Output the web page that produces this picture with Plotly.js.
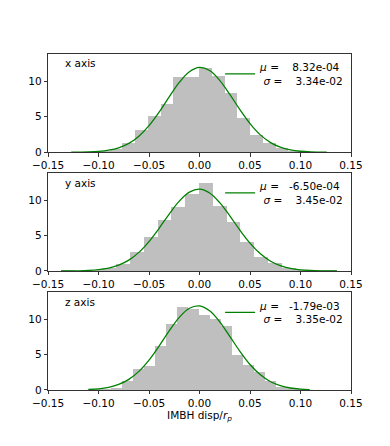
<!DOCTYPE html>
<html>
<head>
<meta charset="utf-8">
<script src="https://cdn.plot.ly/plotly-3.0.1.min.js"></script>
<style>
  html, body { margin: 0; padding: 0; background: #fff; }
  #chart { width: 390px; height: 446px; }
</style>
</head>
<body>
<div id="chart"></div>
<script>
// Panel names
const panelNames = ['x axis', 'y axis', 'z axis'];

// Histogram: 20 bins spanning the data range of each panel (density)
const binCount = 20;
const binRanges = [[-0.127, 0.126], [-0.137, 0.136], [-0.110, 0.109]];
const xDensity = [0.08, 0, 0.16, 0.4, 1.26, 3.1, 5.07, 6.85, 10.6, 10.6,
                  11.9, 10.75, 8.4, 4.85, 2.45, 1.36, 0.55, 0.24, 0.08, 0.08];
const yDensity = [0.07, 0, 0.07, 0.4, 1.05, 2.7, 4.76, 7.2, 9.1, 10.9,
                  12.4, 9.2, 6.9, 4.15, 2.03, 1.2, 0.45, 0.15, 0.07, 0.07];
const zDensity = [0.09, 0.09, 0.28, 1.3, 2.95, 3.4, 6.15, 9.35, 11.8, 11.4,
                  10.6, 10.05, 9.1, 5.0, 3.57, 2.5, 1.22, 0.42, 0.28, 0.1];

// Gaussian fit curves
const xFitX = [-0.127, -0.11, -0.10, -0.09, -0.08, -0.07, -0.06, -0.05, -0.04, -0.03, -0.02, -0.01, 0,
               0.01, 0.02, 0.03, 0.04, 0.05, 0.06, 0.07, 0.08, 0.09, 0.10, 0.11, 0.126];
const xFitY = [0.008, 0.049, 0.125, 0.296, 0.639, 1.26, 2.274, 3.752, 5.658, 7.801, 9.834, 11.333, 11.94,
               11.502, 10.131, 8.158, 6.005, 4.042, 2.487, 1.40, 0.72, 0.338, 0.146, 0.057, 0.011];
const yFitX = [-0.137, -0.12, -0.11, -0.10, -0.09, -0.08, -0.07, -0.06, -0.05, -0.04, -0.03, -0.02, -0.01, 0,
               0.01, 0.02, 0.03, 0.04, 0.05, 0.06, 0.07, 0.08, 0.09, 0.10, 0.11, 0.12, 0.136];
const yFitY = [0.005, 0.029, 0.076, 0.183, 0.404, 0.821, 1.533, 2.633, 4.157, 6.034, 8.053, 9.882, 11.146, 11.562,
               11.026, 9.667, 7.794, 5.776, 3.936, 2.465, 1.421, 0.752, 0.366, 0.164, 0.068, 0.026, 0.005];
const zFitX = [-0.110, -0.10, -0.09, -0.08, -0.07, -0.06, -0.05, -0.04, -0.03, -0.02, -0.01, 0,
               0.01, 0.02, 0.03, 0.04, 0.05, 0.06, 0.07, 0.08, 0.09, 0.10, 0.109];
const zFitY = [0.065, 0.162, 0.372, 0.781, 1.498, 2.632, 4.228, 6.214, 8.354, 10.274, 11.557, 11.892,
               11.194, 9.639, 7.591, 5.47, 3.605, 2.173, 1.199, 0.605, 0.279, 0.118, 0.05];

// Legend texts
const muText = ['8.32e-04', '-6.50e-04', '-1.79e-03'];
const sigmaText = ['3.34e-02', '3.45e-02', '3.35e-02'];

const densities = [xDensity, yDensity, zDensity];
const fitX = [xFitX, yFitX, zFitX];
const fitY = [xFitY, yFitY, zFitY];

const fontFamily = 'DejaVu Sans, Liberation Sans, sans-serif';
const nb = '\u00a0';

function legendLabel(i) {
    let muPad = muText[i].startsWith('-') ? 3 : 4;
    return '<i>μ</i>' + nb + '=' + nb.repeat(muPad) + muText[i] + '<br>' +
           nb + '<i>σ</i>' + nb + '=' + nb.repeat(4) + sigmaText[i];
}

let traces = [];
for (let i = 0; i < 3; i++) {
    let lo = binRanges[i][0], hi = binRanges[i][1];
    let w = (hi - lo) / binCount;
    let centers = densities[i].map((d, k) => lo + w * (k + 0.5));
    let sfx = i === 0 ? '' : String(i + 1);
    traces.push({
        type: 'bar',
        x: centers,
        y: densities[i],
        width: w,
        marker: {color: '#bfbfbf', line: {width: 0}},
        xaxis: 'x' + sfx,
        yaxis: 'y' + sfx,
        showlegend: false,
        hoverinfo: 'skip'
    });
    traces.push({
        type: 'scatter',
        mode: 'lines',
        x: fitX[i],
        y: fitY[i],
        line: {color: '#008000', width: 1.3, shape: 'spline'},
        xaxis: 'x' + sfx,
        yaxis: 'y' + sfx,
        name: legendLabel(i),
        legend: i === 0 ? 'legend' : 'legend' + (i + 1),
        showlegend: true
    });
}

// Panel placement (paper fractions)
const domains = [[0.6585, 0.8800], [0.3924, 0.6128], [0.1256, 0.3460]];
const legendY = [0.8334, 0.5666, 0.2989];

let layout = {
    width: 390,
    height: 446,
    margin: {l: 48, r: 39, t: 0, b: 0},
    paper_bgcolor: '#fff',
    plot_bgcolor: '#fff',
    font: {family: fontFamily, size: 10.5, color: '#000'},
    bargap: 0,
    annotations: []
};

for (let i = 0; i < 3; i++) {
    let sfx = i === 0 ? '' : String(i + 1);
    layout['xaxis' + sfx] = {
        anchor: 'y' + sfx,
        domain: [0, 1],
        range: [-0.15, 0.15],
        tick0: -0.15,
        dtick: 0.05,
        tickformat: '.2f',
        ticks: 'outside',
        ticklen: 3.5,
        tickwidth: 0.8,
        tickcolor: '#000',
        showline: true,
        mirror: true,
        linecolor: '#000',
        linewidth: 0.8,
        showgrid: false,
        zeroline: false,
        tickfont: {size: 10.5}
    };
    layout['yaxis' + sfx] = {
        anchor: 'x' + sfx,
        domain: domains[i],
        range: [0, 13.9],
        tickvals: [0, 5, 10],
        ticks: 'outside',
        ticklen: 3.5,
        tickwidth: 0.8,
        tickcolor: '#000',
        showline: true,
        mirror: true,
        linecolor: '#000',
        linewidth: 0.8,
        showgrid: false,
        zeroline: false,
        tickfont: {size: 10.5}
    };
    layout[i === 0 ? 'legend' : 'legend' + (i + 1)] = {
        x: 0.568,
        y: legendY[i],
        xanchor: 'left',
        yanchor: 'middle',
        bgcolor: 'rgba(0,0,0,0)',
        borderwidth: 0,
        font: {size: 10.5},
        tracegroupgap: 0
    };
    layout.annotations.push({
        xref: 'x' + sfx + ' domain',
        yref: 'y' + sfx + ' domain',
        x: 0.05,
        y: 0.9,
        xanchor: 'left',
        yanchor: 'middle',
        text: panelNames[i],
        showarrow: false,
        font: {size: 10.5}
    });
}

layout.xaxis3.title = {
    text: 'IMBH disp/<i>r</i><sub><i>p</i></sub>',
    font: {size: 10.5},
    standoff: 3
};

Plotly.newPlot('chart', traces, layout, {staticPlot: true});
</script>
</body>
</html>
